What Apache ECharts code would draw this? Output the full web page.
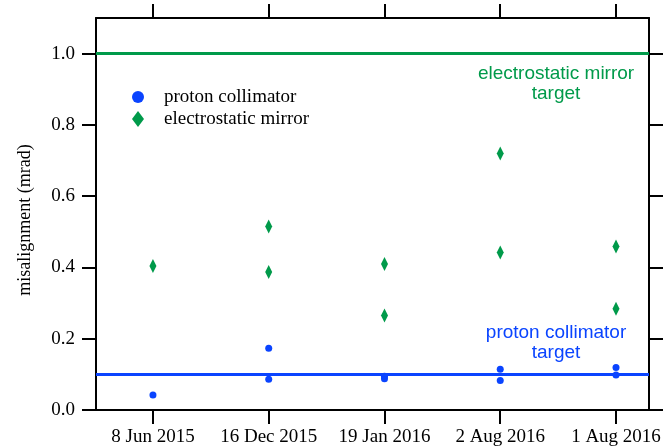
<!DOCTYPE html>
<html>
<head>
<meta charset="utf-8">
<script src="https://cdn.jsdelivr.net/npm/echarts@6/dist/echarts.min.js"></script>
<style>
  html, body { margin: 0; padding: 0; background: #fff; }
  #chart { width: 671px; height: 447px; }
</style>
</head>
<body>
<div id="chart"></div>
<script>
// measurement dates (x positions 0..4)
const dates = ["8 Jun 2015", "16 Dec 2015", "19 Jan 2016", "2 Aug 2016", "1 Aug 2016"];
// misalignment readings per date (mrad)
const protonValues = [[0.042], [0.173, 0.086], [0.095, 0.088], [0.114, 0.083], [0.119, 0.098]];
const mirrorValues = [[0.404], [0.515, 0.387], [0.410, 0.265], [0.720, 0.442], [0.459, 0.284]];
// targets
const protonTarget = 0.1;
const mirrorTarget = 1.0;
const yTicks = [0, 0.2, 0.4, 0.6, 0.8, 1.0];

const blue = "#0a44ff";
const green = "#009a4a";
const serif = "Liberation Serif";
const sans = "Liberation Sans";

// flatten to [x, y] pairs
const toPoints = (arr) => {
  const pts = [];
  arr.forEach((vals, i) => vals.forEach((v) => pts.push([i, v])));
  return pts;
};

const xIdx = dates.map((d, i) => i);

const axisLine = { show: true, onZero: false, lineStyle: { color: "#000", width: 2 } };
const tick = { show: true, inside: false, length: 14, lineStyle: { color: "#000", width: 2 } };

const chart = echarts.init(document.getElementById("chart"));

chart.setOption({
  animation: false,
  backgroundColor: "#fff",
  grid: { left: 96, right: 22, top: 18, bottom: 35 },
  legend: {
    orient: "vertical",
    left: 132,
    top: 86,
    padding: 0,
    itemWidth: 12,
    itemHeight: 16,
    itemGap: 0,
    textStyle: { fontFamily: serif, fontSize: 19, lineHeight: 22, color: "#000", padding: [0, 0, 0, 15] },
    data: [
      { name: "proton collimator", icon: "circle" },
      { name: "electrostatic mirror", icon: "diamond" },
    ],
  },
  xAxis: [
    {
      type: "value",
      position: "bottom",
      min: -0.492,
      max: 4.285,
      axisLine: axisLine,
      axisTick: Object.assign({}, tick, { customValues: xIdx }),
      axisLabel: {
        customValues: xIdx,
        margin: 18,
        fontFamily: serif,
        fontSize: 19,
        color: "#000",
        formatter: (v) => dates[Math.round(v)] || "",
      },
      splitLine: { show: false },
    },
    {
      type: "value",
      position: "top",
      min: -0.492,
      max: 4.285,
      axisLine: axisLine,
      axisTick: Object.assign({}, tick, { customValues: xIdx }),
      axisLabel: { show: false },
      splitLine: { show: false },
    },
  ],
  yAxis: [
    {
      type: "value",
      position: "left",
      min: 0,
      max: 1.1,
      name: "misalignment (mrad)",
      nameLocation: "middle",
      nameGap: 62,
      nameTextStyle: { fontFamily: serif, fontSize: 18, color: "#000", padding: [0, 12, 0, 0] },
      axisLine: axisLine,
      axisTick: Object.assign({}, tick, { customValues: yTicks }),
      axisLabel: {
        customValues: yTicks,
        margin: 21,
        fontFamily: serif,
        fontSize: 19,
        color: "#000",
        formatter: (v) => v.toFixed(1),
      },
      splitLine: { show: false },
    },
    {
      type: "value",
      position: "right",
      min: 0,
      max: 1.1,
      axisLine: axisLine,
      axisTick: Object.assign({}, tick, { customValues: yTicks }),
      axisLabel: { show: false },
      splitLine: { show: false },
    },
  ],
  series: [
    {
      name: "proton collimator",
      type: "scatter",
      symbol: "circle",
      symbolSize: 7,
      itemStyle: { color: blue, opacity: 1 },
      data: toPoints(protonValues),
      markLine: {
        silent: true,
        symbol: "none",
        label: { show: false },
        lineStyle: { color: blue, width: 3, type: "solid" },
        data: [{ yAxis: protonTarget }],
      },
      markPoint: {
        silent: true,
        symbol: "circle",
        symbolSize: 0,
        label: {
          show: true,
          position: "inside",
          formatter: "proton collimator\ntarget",
          fontFamily: sans,
          fontSize: 19,
          lineHeight: 20,
          align: "center",
          color: blue,
        },
        data: [{ coord: [3.482, 0.188] }],
      },
    },
    {
      name: "electrostatic mirror",
      type: "scatter",
      symbol: "diamond",
      symbolSize: [7, 14],
      itemStyle: { color: green, opacity: 1 },
      data: toPoints(mirrorValues),
      markLine: {
        silent: true,
        symbol: "none",
        label: { show: false },
        lineStyle: { color: green, width: 3, type: "solid" },
        data: [{ yAxis: mirrorTarget }],
      },
      markPoint: {
        silent: true,
        symbol: "circle",
        symbolSize: 0,
        label: {
          show: true,
          position: "inside",
          formatter: "electrostatic mirror\ntarget",
          fontFamily: sans,
          fontSize: 19,
          lineHeight: 20,
          align: "center",
          color: green,
        },
        data: [{ coord: [3.482, 0.915] }],
      },
    },
  ],
});
</script>
</body>
</html>
